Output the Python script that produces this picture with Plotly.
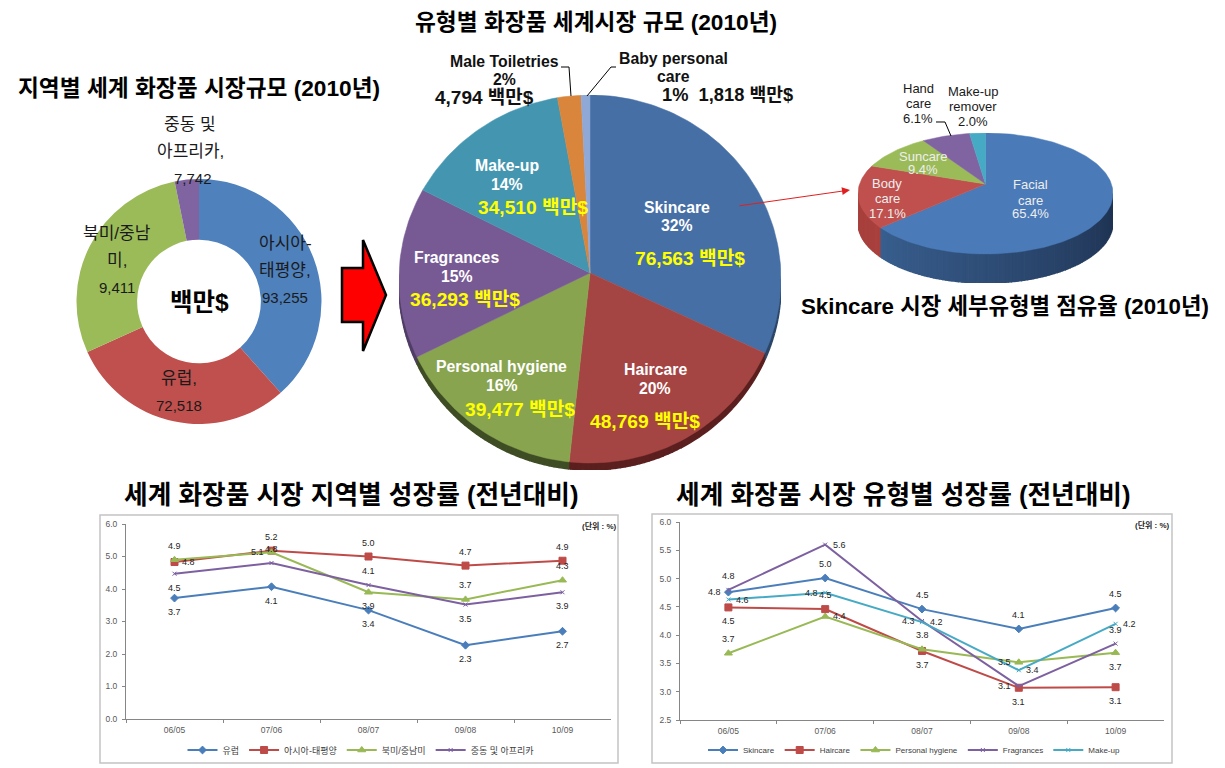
import math
import plotly.graph_objects as go

W, H = 1225, 768
FONT = "Liberation Sans, Noto Sans CJK KR, sans-serif"

# ---------- data ----------
region_names = ["아시아-태평양", "유럽", "북미/중남미", "중동 및 아프리카"]
region_values = [93255, 72518, 69411, 7742]
region_colors = ["#4f81bd", "#c0504d", "#9bbb59", "#8064a2"]

type_names = ["Skincare", "Haircare", "Personal hygiene", "Fragrances", "Make-up", "Male Toiletries", "Baby personal care"]
type_values = [76563, 48769, 39477, 36293, 34510, 4794, 1818]
type_colors = ["#466fa5", "#a54543", "#89a44f", "#775a94", "#4496b0", "#d9853b", "#8fa8d6"]

skin_names = ["Facial care", "Body care", "Suncare", "Hand care", "Make-up remover"]
skin_values = [65.4, 17.1, 9.4, 6.1, 2.0]
skin_colors = ["#4a7ab8", "#c0504d", "#9bbb59", "#8064a2", "#46aac5"]

periods = ["06/05", "07/06", "08/07", "09/08", "10/09"]

europe = [3.72, 4.07, 3.35, 2.27, 2.70]
asia = [4.83, 5.18, 5.00, 4.72, 4.87]
america = [4.90, 5.13, 3.90, 3.68, 4.27]
mea = [4.47, 4.80, 4.12, 3.52, 3.90]

skincare = [4.76, 5.01, 4.46, 4.11, 4.48]
haircare = [4.49, 4.46, 3.72, 3.07, 3.08]
hygiene = [3.68, 4.33, 3.75, 3.52, 3.69]
fragrances = [4.80, 5.60, 4.25, 3.10, 3.85]
makeup = [4.63, 4.75, 4.23, 3.38, 4.20]

europe_labels = ["3.7", "4.1", "3.4", "2.3", "2.7"]
asia_labels = ["4.8", "5.2", "5.0", "4.7", "4.9"]
america_labels = ["4.9", "5.1", "3.9", "3.7", "4.3"]
mea_labels = ["4.5", "4.8", "4.1", "3.5", "3.9"]
skincare_labels = ["4.8", "5.0", "4.5", "4.1", "4.5"]
haircare_labels = ["4.5", "4.5", "3.7", "3.1", "3.1"]
hygiene_labels = ["3.7", "4.4", "3.8", "3.5", "3.7"]
fragrances_labels = ["4.8", "5.6", "4.3", "3.1", "3.9"]
makeup_labels = ["4.6", "4.8", "4.2", "3.4", "4.2"]

# ---------- helpers ----------
def px(x): return x / W
def py(y): return 1 - y / H

annotations, shapes = [], []

def text(x, y, s, size=14, color="#000000", bold=False, family=FONT):
    annotations.append(dict(xref="paper", yref="paper", x=px(x), y=py(y), text=f"<b>{s}</b>" if bold else s,
                            showarrow=False, xanchor="center", yanchor="middle",
                            font=dict(size=size, color=color, family=family)))

def hexrgb(c): return tuple(int(c[i:i+2], 16) for i in (1, 3, 5))
def mix(a, b, t):
    ra, rb = hexrgb(a), hexrgb(b)
    return "#%02x%02x%02x" % tuple(round(u + (v - u) * t) for u, v in zip(ra, rb))

fig = go.Figure()

def tilted_pie(values, names, colors, axis_id, box, depth, apex_dy, wall_dark):
    """box = left, top, right, bottom of the face ellipse in px. Draws wedges from the values."""
    left, top, right, bottom = box
    ry_px = (bottom - top) / 2
    d = depth / ry_px
    xa, ya = f"x{axis_id}", f"y{axis_id}"
    fig.update_layout({f"xaxis{axis_id}": dict(domain=[px(left), px(right)], range=[-1, 1], visible=False, fixedrange=True, anchor=ya),
                       f"yaxis{axis_id}": dict(domain=[py(bottom + depth), py(top)], range=[-1 - d, 1], visible=False, fixedrange=True, anchor=xa)})
    total = sum(values)
    start = 0.0
    spans = []
    for v in values:
        spans.append((start, start + v / total * 360))
        start += v / total * 360
    # side wall
    for (a0, a1), col, name, dk in zip(spans, colors, names, wall_dark):
        lo, hi = max(a0, 90), min(a1, 270)
        a = lo
        while a < hi:
            b = min(a + 1.5, hi)
            t = (a - 90) / 180
            c = mix(dk[0], dk[1], t)
            arc = [a, (a + b) / 2, b]
            xs = [math.sin(math.radians(q)) for q in arc]
            ys = [math.cos(math.radians(q)) for q in arc]
            fig.add_trace(go.Scatter(x=xs + xs[::-1], y=ys + [q - d for q in ys[::-1]], xaxis=xa, yaxis=ya,
                                     mode="lines", fill="toself", fillcolor=c, line=dict(color=c, width=1.5),
                                     showlegend=False, hoverinfo="skip"))
            a = b
    # faces
    for (a0, a1), col, name, v in zip(spans, colors, names, values):
        n = max(3, int((a1 - a0) / 1.5))
        arc = [a0 + (a1 - a0) * i / n for i in range(n + 1)]
        xs = [0] + [math.sin(math.radians(q)) for q in arc] + [0]
        ys = [apex_dy] + [math.cos(math.radians(q)) for q in arc] + [apex_dy]
        fig.add_trace(go.Scatter(x=xs, y=ys, xaxis=xa, yaxis=ya, mode="lines", fill="toself", fillcolor=col,
                                 line=dict(color=col, width=0.5), name=name, showlegend=False,
                                 hoverinfo="name"))

# ---------- donut ----------
cx, cy, r = 199, 301.5, 122.5
fig.add_trace(go.Pie(labels=region_names, values=region_values, hole=0.505, sort=False, direction="clockwise", rotation=0,
                     marker=dict(colors=region_colors, line=dict(width=0)), textinfo="none", showlegend=False,
                     domain=dict(x=[px(cx - r), px(cx + r)], y=[py(cy + r), py(cy - r)])))

# ---------- tilted pies ----------
tilted_pie(type_values, type_names, type_colors, 3, (399, 95, 781, 463), 7, 0.033,
           [("#2c4668", "#2c4668"), ("#5a1f1e", "#5a1f1e"), ("#3f4d24", "#3f4d24"), ("#503d65", "#503d65"), ("#2e6678", "#2e6678"), ("#99602a", "#99602a"), ("#6f83a6", "#6f83a6")])
tilted_pie(skin_values, skin_names, skin_colors, 4, (858, 133, 1113, 254), 29, 0.157,
           [("#1e3150", "#3f6a9e"), ("#a8403d", "#a8403d"), ("#7a9a40", "#7a9a40"), ("#604a80", "#604a80"), ("#3088a0", "#3088a0")])

# ---------- line charts ----------
def line_chart(axis_id, series, legend_id):
    xa, ya = ("x", "y") if axis_id == 1 else (f"x{axis_id}", f"y{axis_id}")
    for name, vals, col, sym, size in series:
        fig.add_trace(go.Scatter(x=periods, y=vals, name=name, mode="lines+markers", xaxis=xa, yaxis=ya,
                                 line=dict(color=col, width=2),
                                 marker=dict(symbol=sym, size=size, color=col, line=dict(width=1, color=col)),
                                 legend=legend_id))

BLUE, RED, GREEN, PURPLE, TEAL = "#4a7ebb", "#be4b48", "#98b954", "#7d60a0", "#46aac5"
line_chart(1, [("유럽", europe, BLUE, "diamond", 6), ("아시아-태평양", asia, RED, "square", 7),
               ("북미/중남미", america, GREEN, "triangle-up", 7), ("중동 및 아프리카", mea, PURPLE, "x-thin", 4)], "legend")
line_chart(2, [("Skincare", skincare, BLUE, "diamond", 6), ("Haircare", haircare, RED, "square", 7),
               ("Personal hygiene", hygiene, GREEN, "triangle-up", 7), ("Fragrances", fragrances, PURPLE, "x-thin", 4),
               ("Make-up", makeup, TEAL, "x-thin", 4)], "legend2")

def axis_style(left, right, top, bottom):
    return (dict(domain=[px(left), px(right)], type="category", range=[-0.5, 4.5], tickson="boundaries", ticks="outside", ticklen=3,
                 showline=True, linecolor="#868686", tickcolor="#868686", showgrid=False, zeroline=False, fixedrange=True,
                 ticklabelstandoff=3, tickfont=dict(size=8.5, color="#595959", family=FONT)),
            dict(domain=[py(bottom), py(top)], ticks="outside", ticklen=3, showline=True, linecolor="#868686", tickcolor="#868686",
                 showgrid=False, zeroline=False, fixedrange=True, tickformat=".1f", ticklabelstandoff=3,
                 tickfont=dict(size=8.5, color="#595959", family=FONT)))

xa1, ya1 = axis_style(126, 611, 524, 719)
xa2, ya2 = axis_style(680, 1164, 522, 720)
ya1.update(range=[0, 6], dtick=1, anchor="x")
xa1.update(anchor="y")
ya2.update(range=[2.5, 6], dtick=0.5, anchor="x2")
xa2.update(anchor="y2")

# value labels next to the points, offsets in px (U/D/L/R)
OFF = dict(U=(0, -14), D=(0, 14), R=(14, 0), L=(-14, 0))
def value_labels(xref, yref, vals, labels, places):
    for p, v, s, k in zip(periods, vals, labels, places):
        dx, dy = OFF[k]
        annotations.append(dict(xref=xref, yref=yref, x=p, y=v, text=s, showarrow=False, xshift=dx, yshift=-dy,
                                font=dict(size=9, color="#262626", family=FONT)))

value_labels("x", "y", europe, europe_labels, ["D"] * 5)
value_labels("x", "y", asia, asia_labels, ["R", "U", "U", "U", "U"])
value_labels("x", "y", america, america_labels, ["U", "L", "D", "U", "U"])
value_labels("x", "y", mea, mea_labels, ["D", "U", "U", "D", "D"])
value_labels("x2", "y2", skincare, skincare_labels, ["L", "U", "U", "U", "U"])
value_labels("x2", "y2", haircare, haircare_labels, ["D", "U", "D", "D", "D"])
value_labels("x2", "y2", hygiene, hygiene_labels, ["U", "R", "U", "L", "D"])
value_labels("x2", "y2", fragrances, fragrances_labels, ["U", "R", "L", "L", "U"])
value_labels("x2", "y2", makeup, makeup_labels, ["R", "L", "R", "R", "R"])

text(599, 526, "(단위 : %)", 8, "#262626", True)
text(1152, 525, "(단위 : %)", 8, "#262626", True)

# chart frames
for x0, y0, x1, y1 in [(100, 515, 618, 763), (652, 514, 1172, 763)]:
    shapes.append(dict(type="rect", xref="paper", yref="paper", x0=px(x0), x1=px(x1), y0=py(y0), y1=py(y1),
                       line=dict(color="#c4c4c4", width=1.5), layer="below"))

# ---------- text ----------
for x, y, s, z in [(596, 22, "유형별 화장품 세계시장 규모 (2010년)", 22.7), (199, 88, "지역별 세계 화장품 시장규모 (2010년)", 22.7),
                   (1005, 307, "Skincare 시장 세부유형별 점유율 (2010년)", 22.3), (351, 495, "세계 화장품 시장 지역별 성장률 (전년대비)", 25.7),
                   (903, 495, "세계 화장품 시장 유형별 성장률 (전년대비)", 25.7)]:
    text(x, y, s, z, "#000000", True)

for x, y, s, z in [(190, 124, "중동 및", 17), (190, 152, "아프리카,", 17), (193, 178, "7,742", 15), (117, 233, "북미/중남", 17), (117, 260, "미,", 17),
                   (117, 287, "9,411", 15), (285, 243, "아시아-", 17), (285, 271, "태평양,", 17), (285, 297, "93,255", 15), (179, 379, "유럽,", 17), (179, 405, "72,518", 15)]:
    text(x, y, s, z, "#1a1a1a")
text(200, 302, "백만$", 24.5, "#000000", True)

for x, y, s in [(677, 207, "Skincare"), (677, 226, "32%"), (655, 369, "Haircare"), (655, 388, "20%"), (502, 367, "Personal hygiene"),
                (502, 385, "16%"), (457, 257, "Fragrances"), (457, 276, "15%"), (507, 165, "Make-up"), (507, 184, "14%")]:
    text(x, y, s, 15.8, "#ffffff", True)
for x, y, s in [(690, 258, "76,563 백만$"), (645, 421, "48,769 백만$"), (520, 409, "39,477 백만$"), (465, 299, "36,293 백만$"), (533, 208, "34,510 백만$")]:
    text(x, y, s, 19.2, "#ffff00", True)
for x, y, s in [(504, 61, "Male Toiletries"), (504, 80, "2%"), (673, 58, "Baby personal"), (673, 77, "care")]:
    text(x, y, s, 15.8, "#111111", True)
text(485, 98, "4,794 백만$", 19, "#111111", True)
text(727, 95, "1%&nbsp;&nbsp;1,818 백만$", 18.3, "#111111", True)

for x, y, s in [(1030, 184, "Facial"), (1030, 200, "care"), (1030, 214, "65.4%"), (887, 183, "Body"), (887, 198, "care"), (887, 213, "17.1%"),
                (923, 156, "Suncare"), (923, 170, "9.4%")]:
    text(x, y, s, 13, "#eeeeee")
for x, y, s in [(918, 89, "Hand"), (918, 104, "care"), (918, 118, "6.1%"), (973, 91, "Make-up"), (973, 106, "remover"), (973, 121, "2.0%")]:
    text(x, y, s, 13, "#1a1a1a")

# ---------- decoration ----------
def poly(points, fill=None, line="#000000", width=1):
    d = "M " + " L ".join(f"{px(x):.5f},{py(y):.5f}" for x, y in points)
    if fill:
        d += " Z"
    shapes.append(dict(type="path", xref="paper", yref="paper", path=d, fillcolor=fill if fill else "rgba(0,0,0,0)",
                       line=dict(color=line, width=width)))

poly([(342, 268), (363, 268), (363, 240), (386, 295), (363, 351), (363, 322), (342, 322)], "#ff0000", "#000000", 2.5)
poly([(561, 67), (569, 67), (571, 96)])
poly([(616, 67), (611, 67), (587, 96)])
poly([(936, 122), (945, 122), (951, 136)])
annotations.append(dict(xref="paper", yref="paper", axref="pixel", ayref="pixel", x=px(850), y=py(190), ax=-112, ay=16, text="",
                        showarrow=True, arrowcolor="#e02020", arrowwidth=1, arrowhead=2, arrowsize=1.6))

fig.update_layout(
    width=W, height=H, margin=dict(l=0, r=0, t=0, b=0, autoexpand=False), paper_bgcolor="#ffffff", plot_bgcolor="rgba(0,0,0,0)",
    font=dict(family=FONT), xaxis=xa1, yaxis=ya1, xaxis2=xa2, yaxis2=ya2, annotations=annotations, shapes=shapes,
    legend=dict(orientation="h", x=px(361), y=py(750), xanchor="center", yanchor="middle", font=dict(size=9, color="#404040"), bgcolor="rgba(0,0,0,0)"),
    legend2=dict(orientation="h", x=px(914), y=py(750), xanchor="center", yanchor="middle", font=dict(size=8, color="#404040"), bgcolor="rgba(0,0,0,0)"),
)
fig.write_html("out.html", config={"displayModeBar": False}, post_script="document.body.style.margin='0';")
